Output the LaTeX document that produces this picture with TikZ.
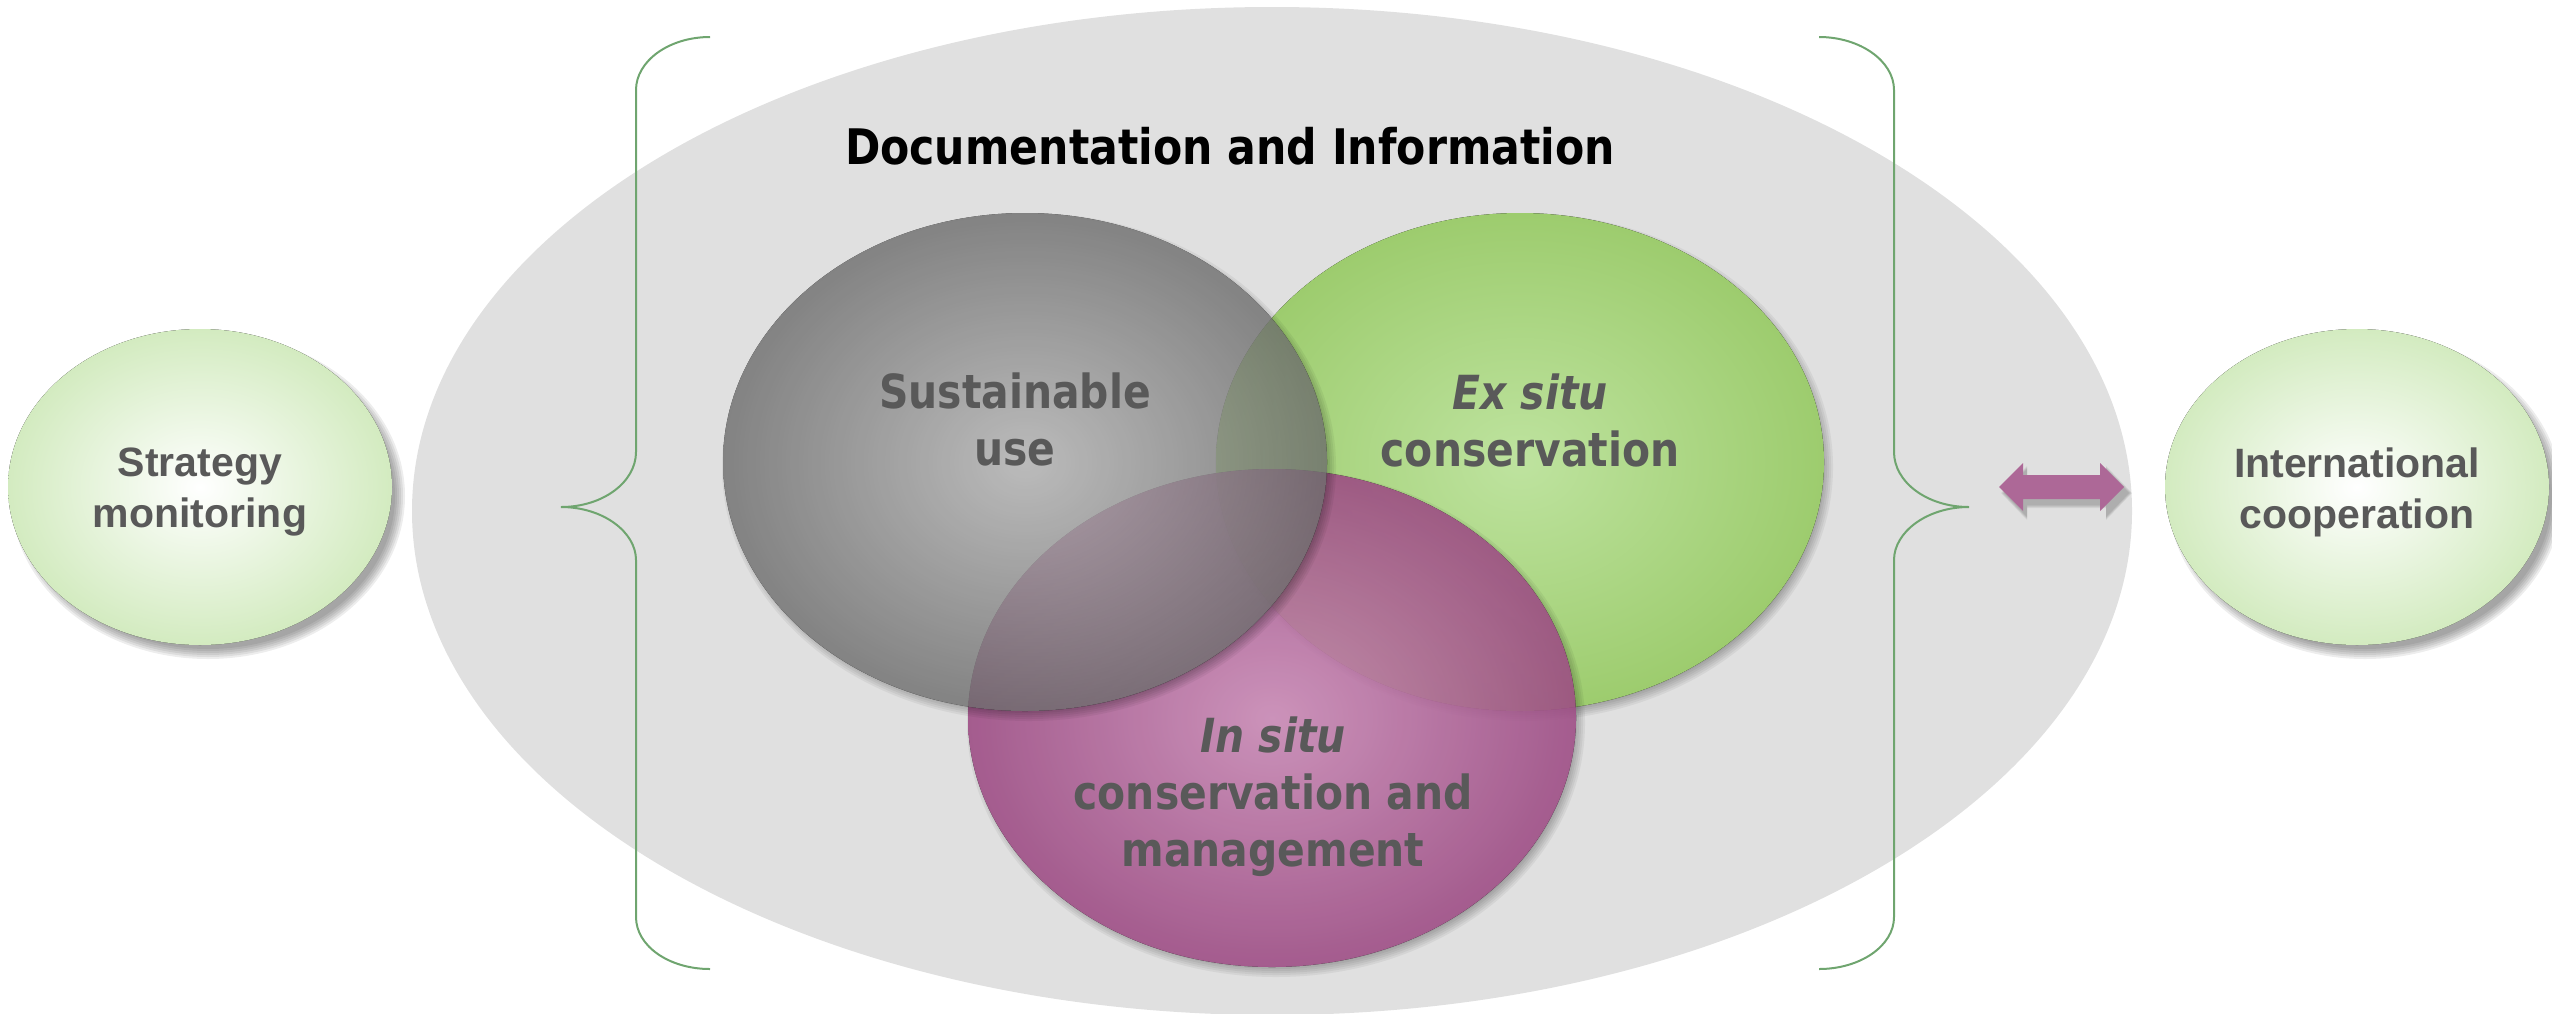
\documentclass[tikz,border=0pt]{standalone}
\usepackage{fontspec}
\setmainfont{Liberation Sans}
\newfontfamily\vennfont[FakeStretch=0.87]{DejaVu Sans}

\definecolor{bgoval}{HTML}{E0E0E0}
\definecolor{bracegreen}{HTML}{6FA56F}
\definecolor{labelgray}{HTML}{595959}
\definecolor{mintout}{HTML}{D3EBC0}
\definecolor{grayin}{HTML}{B2B2B2}
\definecolor{grayout}{HTML}{6C6C6C}
\definecolor{greenin}{HTML}{BEE39F}
\definecolor{greenout}{HTML}{9DCC6E}
\definecolor{plumin}{HTML}{C988B5}
\definecolor{plumout}{HTML}{9C4A83}
\definecolor{arrowplum}{HTML}{AD6897}

% soft drop shadow of an ellipse, kept outside the ellipse itself:
% centre, x radius, y radius, offset, strength
\newcommand\ovalshadow[5]{%
  \begin{scope}[even odd rule]
    \clip (0,0) rectangle (2552,1013)
      (#1) ellipse [x radius=#2, y radius=#3];
    \foreach \k in {0,...,5}{%
      \fill[black, opacity=#5, shift={#4}] (#1)
        ellipse [x radius=#2+5-2*\k, y radius=#3+5-2*\k];}
  \end{scope}}

\begin{document}
\begin{tikzpicture}[x=0.5pt, y=-0.5pt,
  bracestroke/.style={draw=bracegreen, line width=1pt},
  outerlabel/.style={font=\fontsize{20.5}{25.5}\selectfont\bfseries,
    text=labelgray, align=center, inner sep=0pt},
  venntext/.style={font=\vennfont\fontsize{23.5}{28.5}\selectfont\bfseries,
    text=labelgray, align=center, inner sep=0pt},
  titletext/.style={font=\vennfont\fontsize{24.5}{29}\selectfont\bfseries,
    text=black, inner sep=0pt}]
\useasboundingbox (0,0) rectangle (2552,1013);
\clip (0,0) rectangle (2552,1013);

% large background oval
\fill[bgoval] (1272,511) ellipse [x radius=860, y radius=504];

% curly braces
\draw[bracestroke] (710,37) .. controls (669,37) and (636,61) .. (636,90)
  -- (636,452) .. controls (636,482) and (603,507) .. (561,507)
  .. controls (603,507) and (636,532) .. (636,560)
  -- (636,917) .. controls (636,946) and (669,969) .. (710,969);
\draw[bracestroke] (1819,37) .. controls (1860,37) and (1894,61) .. (1894,90)
  -- (1894,452) .. controls (1894,482) and (1927,507) .. (1969,507)
  .. controls (1927,507) and (1894,532) .. (1894,560)
  -- (1894,917) .. controls (1894,946) and (1860,969) .. (1819,969);

% side ovals
\ovalshadow{200,487}{192}{158}{(8,9)}{0.07}
\ovalshadow{2357,487}{192}{158}{(8,9)}{0.07}
\fill[inner color=white, outer color=mintout] (200,487) ellipse [x radius=192, y radius=158];
\fill[inner color=white, outer color=mintout] (2357,487) ellipse [x radius=192, y radius=158];

% double arrow
\begin{scope}[shift={(5,6)}]
  \foreach \k in {0,...,3}{%
    \fill[black, opacity=0.06] (1999-3+\k,487) -- (2022,463-3+\k) -- (2022,475-3+\k)
      -- (2101,475-3+\k) -- (2101,463-3+\k) -- (2124+3-\k,487) -- (2101,511+3-\k)
      -- (2101,499+3-\k) -- (2022,499+3-\k) -- (2022,511+3-\k) -- cycle;}
\end{scope}
\fill[arrowplum] (1999,487) -- (2023,463) -- (2023,475) -- (2100,475) -- (2100,463)
  -- (2124,487) -- (2100,511) -- (2100,499) -- (2023,499) -- (2023,511) -- cycle;

% three overlapping ovals
\ovalshadow{1520,462}{304}{249}{(4,5)}{0.05}
\fill[inner color=greenin, outer color=greenout] (1520,462) ellipse [x radius=304, y radius=249];
\ovalshadow{1272,718}{304}{249}{(4,5)}{0.05}
\begin{scope}[transparency group, opacity=0.88]
  \fill[inner color=plumin, outer color=plumout] (1272,718) ellipse [x radius=304, y radius=249];
\end{scope}
\ovalshadow{1025,462}{302}{249}{(4,5)}{0.05}
\begin{scope}[transparency group, opacity=0.8]
  \fill[inner color=grayin, outer color=grayout] (1025,462) ellipse [x radius=302, y radius=249];
\end{scope}

% labels
\node[titletext] (doc) at (1230,146) {Documentation and Information};
\node[outerlabel] (strategy) at (200,492) {Strategy\\monitoring};
\node[outerlabel] (intl) at (2357,492) {International\\cooperation};
\node[venntext] (use) at (1015,419) {Sustainable\\use};
\node[venntext] (exsitu) at (1530,420) {\textit{Ex situ}\\conservation};
\node[venntext] (insitu) at (1273,797) {\textit{In situ}\\conservation and\\management};
\end{tikzpicture}
\end{document}
